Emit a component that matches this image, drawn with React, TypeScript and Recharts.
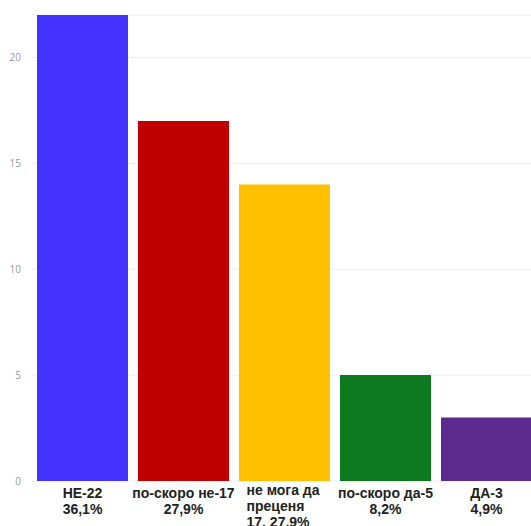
import React from 'react';
import { BarChart, Bar, XAxis, YAxis, CartesianGrid, Cell } from 'recharts';

const categories = ['НЕ-22', 'по-скоро не-17', 'не мога да преценя', 'по-скоро да-5', 'ДА-3'];
const values = [22, 17, 14, 5, 3];
const labelLines: string[][] = [
  ['НЕ-22', '36,1%'],
  ['по-скоро не-17', '27,9%'],
  ['не мога да', 'преценя', '17, 27,9%'],
  ['по-скоро да-5', '8,2%'],
  ['ДА-3', '4,9%'],
];
const colors = ['#4433fe', '#c00000', '#ffc000', '#0d7a1f', '#5c2a8f'];
const yTicks = [0, 5, 10, 15, 20];

const data = categories.map((c, i) => ({ name: c, value: values[i], idx: i }));

const XTick = (props: any) => {
  const { x, y, payload } = props;
  const lines = labelLines[payload.index] || [payload.value];
  const left = lines.length > 2;
  return (
    <g>
      {lines.map((l, i) => (
        <text
          key={i}
          x={left ? x - 38 : x}
          y={y + (left ? 14 : 17) + i * 16}
          textAnchor={left ? 'start' : 'middle'}
          fontFamily="'Liberation Sans', Arial, sans-serif"
          fontWeight="bold"
          fontSize={14}
          fill="#222"
        >
          {l}
        </text>
      ))}
    </g>
  );
};

export default function App() {
  return (
    <div style={{ position: 'absolute', left: 0, top: 0, width: 531, height: 526, overflow: 'hidden', background: '#fff' }}>
      <BarChart
        width={540}
        height={526}
        data={data}
        margin={{ top: 15, right: 3, left: 0, bottom: 0 }}
        barCategoryGap={5}
      >
        <CartesianGrid vertical={false} stroke="#ececec" />
        <XAxis
          dataKey="name"
          axisLine={false}
          tickLine={false}
          tickSize={0}
          tickMargin={0}
          height={45}
          interval={0}
          tick={<XTick />}
        />
        <YAxis
          width={32}
          domain={[0, 22]}
          ticks={yTicks}
          axisLine={false}
          tickLine={false}
          tickSize={8}
          tickMargin={3}
          tick={{ fontSize: 10, fill: '#999', fontFamily: "'Open Sans', Arial, sans-serif" }}
        />
        <Bar dataKey="value" isAnimationActive={false}>
          {data.map((d, i) => (
            <Cell key={i} fill={colors[i]} />
          ))}
        </Bar>
      </BarChart>
    </div>
  );
}
